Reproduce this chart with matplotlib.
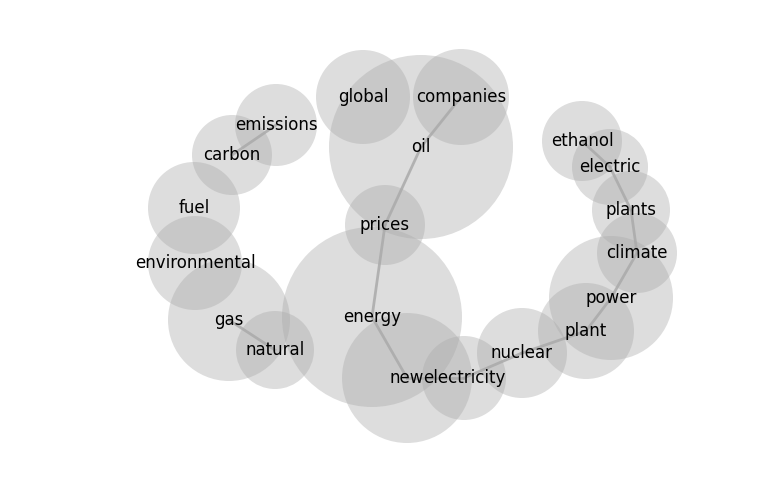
import matplotlib.pyplot as plt
from matplotlib.patches import Circle

# word nodes: label, x, y (pixel coords), radius
words = ["oil", "global", "companies", "prices", "energy", "new", "electricity",
         "nuclear", "plant", "power", "climate", "plants", "electric", "ethanol",
         "emissions", "carbon", "fuel", "environmental", "gas", "natural"]
xs = [421, 363, 461, 385, 372, 407, 464, 522, 586, 611, 637, 631, 610, 582,
      276, 232, 194, 195, 229, 275]
ys = [147, 97, 97, 225, 317, 378, 378, 353, 331, 298, 253, 210, 167, 141,
      125, 155, 208, 263, 320, 350]
radii = [92, 47, 48, 40, 90, 65, 42, 45, 48, 62, 40, 39, 38, 40,
         41, 40, 46, 47, 61, 39]
edges = [("companies", "oil"), ("oil", "prices"), ("prices", "energy"),
         ("energy", "new"), ("new", "electricity"), ("electricity", "nuclear"),
         ("nuclear", "plant"), ("plant", "power"), ("power", "climate"),
         ("climate", "plants"), ("plants", "electric"), ("electric", "ethanol"),
         ("emissions", "carbon"), ("gas", "natural")]

fig = plt.figure(figsize=(7.68, 5.0), dpi=100)
ax = fig.add_axes([0, 0, 1, 1])
ax.set_xlim(0, 768)
ax.set_ylim(500, 0)
ax.set_aspect("equal")
ax.axis("off")

pos = {w: (x, y) for w, x, y in zip(words, xs, ys)}
for a, b in edges:
    ax.plot([pos[a][0], pos[b][0]], [pos[a][1], pos[b][1]],
            color="#999999", lw=2, alpha=0.7, zorder=1)
for w, x, y, r in zip(words, xs, ys, radii):
    ax.add_patch(Circle((x, y), r, color="#aaaaaa", alpha=0.4, lw=0, zorder=2))
    ax.text(x, y, w, ha="center", va="center", fontsize=12, zorder=3)

fig.savefig("out.png", dpi=100)
